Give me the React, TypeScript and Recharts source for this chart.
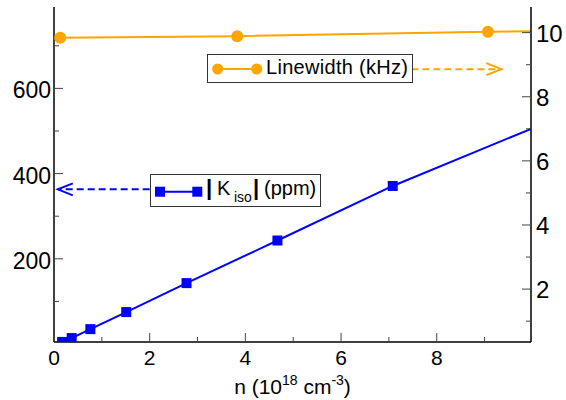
import { ComposedChart, Line, Scatter, XAxis, YAxis, ReferenceLine, Label } from 'recharts'

// |K_iso| (ppm) vs carrier density n (1e18 cm^-3)
const kisoN = [0.17, 0.37, 0.76, 1.51, 2.77, 4.67, 7.08]
const kisoPpm = [5, 14, 35, 75, 143, 243, 371]
// line runs through the points and on to the right edge
const kisoLineN = [0.17, 0.37, 0.76, 1.51, 2.77, 4.67, 7.08, 9.97]
const kisoLinePpm = [5, 14, 35, 75, 143, 243, 371, 505]

// Linewidth (kHz)
const lwN = [0.13, 3.83, 9.07]
const lwKhz = [9.84, 9.89, 10.03]
const lwLineN = [0.13, 3.83, 9.07, 9.97]
const lwLineKhz = [9.84, 9.89, 10.03, 10.04]

const xTicks = [0, 1, 2, 3, 4, 5, 6, 7, 8, 9]
const topTicks = [1, 2, 3, 4, 5, 6, 7, 8, 9]
const leftTicks = [100, 200, 300, 400, 500, 600, 700]
const rightTicks = [1, 2, 3, 4, 5, 6, 7, 8, 9, 10]

const BLUE = '#0000ff'
const ORANGE = '#ffa500'
const TICK = '#444'
const FONT = '"Liberation Sans", Arial, sans-serif'

const kisoPts = kisoN.map((x, i) => ({ x, y: kisoPpm[i] }))
const kisoLine = kisoLineN.map((x, i) => ({ x, y: kisoLinePpm[i] }))
const lwPts = lwN.map((x, i) => ({ x, y: lwKhz[i] }))
const lwLine = lwLineN.map((x, i) => ({ x, y: lwLineKhz[i] }))

const BottomTick = (p: any) => {
  const v = p.payload.value
  const major = v % 2 === 0
  return (
    <g>
      <line x1={p.x} x2={p.x} y1={p.y} y2={p.y - (major ? 9 : 5)} stroke={TICK} />
      {major && (
        <text x={p.x} y={p.y + 23} textAnchor="middle" fontSize={21} fontFamily={FONT} fill="#000">{v}</text>
      )}
    </g>
  )
}

const TopTick = (p: any) => {
  const major = p.payload.value % 2 === 0
  return <line x1={p.x} x2={p.x} y1={p.y} y2={p.y + (major ? 9 : 5)} stroke={TICK} />
}

const LeftTick = (p: any) => {
  const v = p.payload.value
  const major = v % 200 === 0
  return (
    <g>
      <line x1={p.x} x2={p.x + (major ? 9 : 5)} y1={p.y} y2={p.y} stroke={TICK} />
      {major && (
        <text x={p.x - 3} y={p.y + 10} textAnchor="end" fontSize={23} fontFamily={FONT} fill="#000">{v}</text>
      )}
    </g>
  )
}

const RightTick = (p: any) => {
  const v = p.payload.value
  const major = v % 2 === 0
  return (
    <g>
      <line x1={p.x} x2={p.x - (major ? 9 : 5)} y1={p.y} y2={p.y} stroke={TICK} />
      {major && (
        <text x={p.x + 5} y={p.y + 9} textAnchor="start" fontSize={24} fontFamily={FONT} fill="#000">{v}</text>
      )}
    </g>
  )
}

const XLabel = (p: any) => {
  const vb = p.viewBox
  return (
    <text x={vb.x + vb.width / 2} y={vb.y + 52} textAnchor="middle" fontSize={21} fontFamily={FONT} fill="#000">
      n (10<tspan dy={-9} fontSize={14}>18</tspan>
      <tspan dy={9}> cm</tspan>
      <tspan dy={-9} fontSize={14}>-3</tspan>
      <tspan dy={9}>)</tspan>
    </text>
  )
}

// dashed arrow, tip at the second segment point
const arrow = (color: string) => (p: any) => {
  const { x1, y1, x2, y2 } = p
  const dir = x2 > x1 ? 1 : -1
  return (
    <g>
      <line x1={x1} y1={y1} x2={x2} y2={y2} stroke={color} strokeWidth={2} strokeDasharray="7 4" />
      <polyline
        points={`${x2 - dir * 15},${y2 - 6} ${x2},${y2} ${x2 - dir * 15},${y2 + 6}`}
        fill="none" stroke={color} strokeWidth={2}
      />
    </g>
  )
}

const Square = (p: any) => <rect x={p.cx - 5} y={p.cy - 5} width={10} height={10} fill={BLUE} />
const Dot = (p: any) => <circle cx={p.cx} cy={p.cy} r={6} fill={ORANGE} />

export default function App() {
  return (
    <div style={{ position: 'absolute', left: 0, top: 0, width: 566, height: 400, background: '#fff' }}>
      <ComposedChart width={566} height={400} margin={{ top: 7, right: 0, left: 0, bottom: 0 }}>
        <XAxis
          dataKey="x" type="number" domain={[0, 9.97]} allowDataOverflow
          ticks={xTicks} interval={0} tickSize={0} tickMargin={0} height={58}
          axisLine={{ stroke: '#000', strokeWidth: 1.5 }} tick={BottomTick}
        >
          <Label content={XLabel} />
        </XAxis>
        <XAxis
          xAxisId="top" orientation="top" dataKey="x" type="number" domain={[0, 9.97]} allowDataOverflow
          ticks={topTicks} interval={0} tickSize={0} tickMargin={0} height={0}
          axisLine={{ stroke: '#000', strokeWidth: 1.5 }} tick={TopTick}
        />
        <YAxis
          yAxisId="left" type="number" domain={[4.8, 791]} allowDataOverflow
          ticks={leftTicks} interval={0} tickSize={0} tickMargin={0} width={54}
          axisLine={{ stroke: '#000', strokeWidth: 1.5 }} tick={LeftTick}
        />
        <YAxis
          yAxisId="right" orientation="right" type="number" domain={[0.35, 10.8]} allowDataOverflow
          ticks={rightTicks} interval={0} tickSize={0} tickMargin={0} width={35}
          axisLine={{ stroke: '#000', strokeWidth: 1.5 }} tick={RightTick}
        />

        <Line data={lwLine} dataKey="y" yAxisId="right" stroke={ORANGE} strokeWidth={2} dot={false} isAnimationActive={false} />
        <Scatter data={lwPts} dataKey="y" yAxisId="right" shape={Dot} isAnimationActive={false} />
        <Line data={kisoLine} dataKey="y" yAxisId="left" stroke={BLUE} strokeWidth={2} dot={false} isAnimationActive={false} />
        <Scatter data={kisoPts} dataKey="y" yAxisId="left" shape={Square} isAnimationActive={false} />

        <ReferenceLine
          yAxisId="left" ifOverflow="visible"
          segment={[{ x: 2.0, y: 363 }, { x: 0.08, y: 363 }]}
          shape={arrow(BLUE)}
        />
        <ReferenceLine
          yAxisId="right" ifOverflow="visible"
          segment={[{ x: 7.47, y: 8.86 }, { x: 9.35, y: 8.86 }]}
          shape={arrow(ORANGE)}
        />
      </ComposedChart>

      <svg width={566} height={400} style={{ position: 'absolute', left: 0, top: 0, pointerEvents: 'none' }}>
        <g fontFamily={FONT} fill="#000">
          <rect x={207.5} y={54.5} width={205} height={28} fill="#fff" stroke="#333" />
          <line x1={217.7} x2={256.7} y1={69} y2={69} stroke={ORANGE} strokeWidth={2} />
          <circle cx={217.7} cy={69} r={5.5} fill={ORANGE} />
          <circle cx={256.7} cy={69} r={5.5} fill={ORANGE} />
          <text x={266} y={74} fontSize={20} letterSpacing={0.3}>Linewidth (kHz)</text>

          <rect x={150.5} y={174.5} width={170} height={32} fill="#fff" stroke="#333" />
          <line x1={160} x2={197.3} y1={191.7} y2={191.7} stroke={BLUE} strokeWidth={2} />
          <rect x={155} y={186.7} width={10} height={10} fill={BLUE} />
          <rect x={192.3} y={186.7} width={10} height={10} fill={BLUE} />
          <text y={195} fontSize={20}>
            <tspan x={206} fontWeight="bold" fontSize={22}>|</tspan>
            <tspan x={217}>K</tspan>
            <tspan x={234} y={202} fontSize={14}>iso</tspan>
            <tspan x={253} y={195} fontWeight="bold" fontSize={22}>|</tspan>
            <tspan x={264}>(ppm)</tspan>
          </text>
        </g>
      </svg>
    </div>
  )
}
